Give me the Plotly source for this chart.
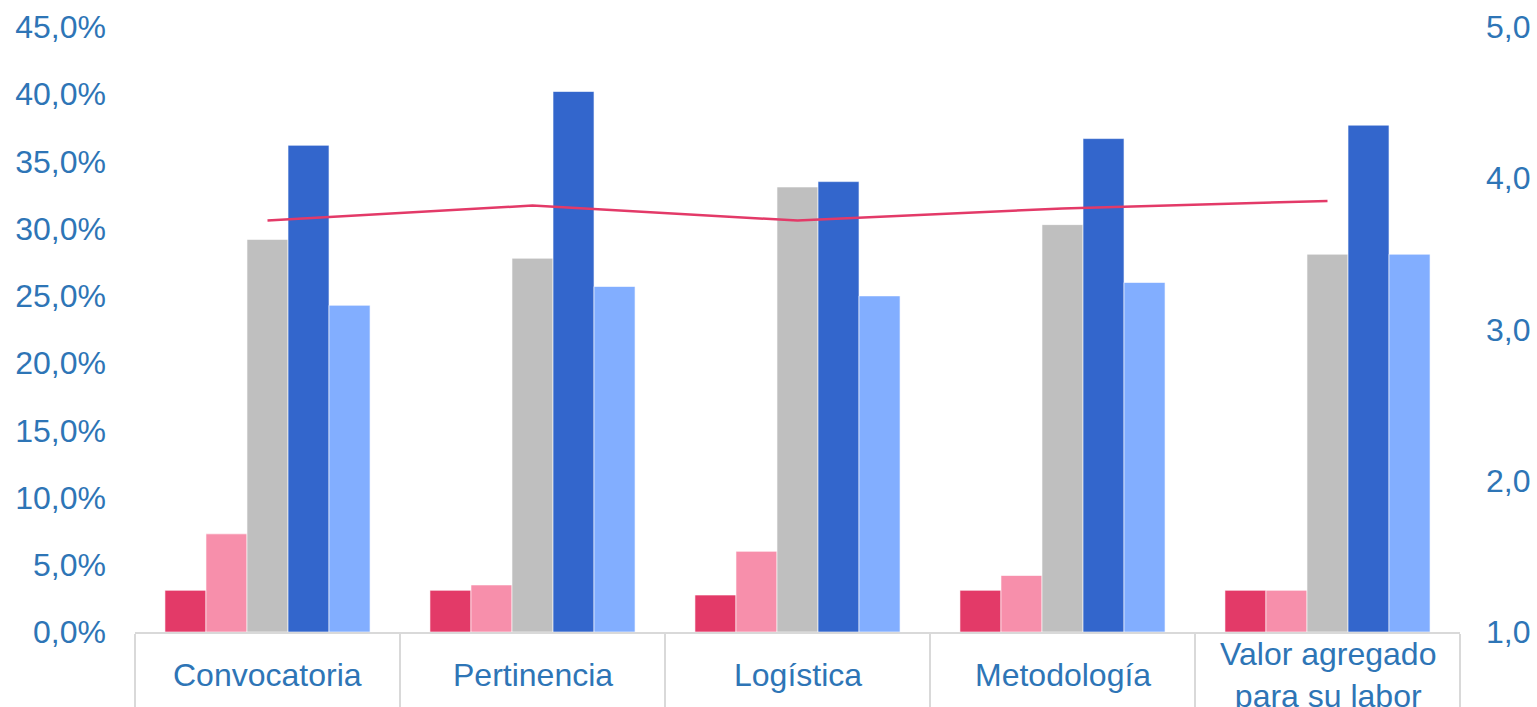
import plotly.graph_objects as go

categories = ["Convocatoria", "Pertinencia", "Logística", "Metodología", "Valor agregado<br>para su labor"]

# Percentage of responses per rating level (1 = lowest, 5 = highest)
nivel_1 = [0.031, 0.031, 0.0275, 0.031, 0.031]
nivel_2 = [0.073, 0.035, 0.060, 0.042, 0.031]
nivel_3 = [0.292, 0.278, 0.331, 0.303, 0.281]
nivel_4 = [0.362, 0.402, 0.335, 0.367, 0.377]
nivel_5 = [0.243, 0.257, 0.250, 0.260, 0.281]

# Average score per criterion (right axis, 1-5 scale)
promedio = [3.72, 3.82, 3.72, 3.80, 3.85]

series = [
    ("1", nivel_1, "#E33A68"),
    ("2", nivel_2, "#F78FAB"),
    ("3", nivel_3, "#BFBFBF"),
    ("4", nivel_4, "#3366CC"),
    ("5", nivel_5, "#82AEFF"),
]

text_color = "#2E75B6"
font_family = "Liberation Sans, Arial, sans-serif"
fsize = 32

fig = go.Figure()
for name, vals, color in series:
    fig.add_trace(go.Bar(
        x=categories, y=vals, name=name,
        marker=dict(color=color, line=dict(color="rgba(255,255,255,0.6)", width=1)),
    ))

fig.add_trace(go.Scatter(
    x=categories, y=promedio, name="Promedio", yaxis="y2",
    mode="lines", line=dict(color="#E33A68", width=2.5),
))

# Category labels, vertically centred in the band under the axis
for cat in categories:
    fig.add_annotation(
        x=cat, xref="x", y=0, yref="paper", yshift=-43,
        text=cat, showarrow=False, xanchor="center", yanchor="middle",
        align="center", font=dict(size=fsize, color=text_color),
    )

fig.update_layout(
    width=1537, height=707,
    margin=dict(l=135, r=77, t=27, b=75),
    paper_bgcolor="white", plot_bgcolor="white",
    barmode="group", bargap=0.226, bargroupgap=0,
    showlegend=False,
    separators=",.",
    font=dict(family=font_family, size=fsize, color=text_color),
    xaxis=dict(
        type="category",
        automargin=False,
        showgrid=False,
        showline=True, linecolor="#D9D9D9", linewidth=1.5,
        ticks="outside", tickson="boundaries", ticklen=75,
        tickcolor="#D9D9D9", tickwidth=1.5,
        showticklabels=False,
    ),
    yaxis=dict(
        range=[0, 0.45], dtick=0.05, tickformat=".1%",
        automargin=False,
        showgrid=False, zeroline=False, showline=False,
        ticklabelstandoff=28,
        tickfont=dict(size=fsize, color=text_color),
    ),
    yaxis2=dict(
        range=[1, 5], dtick=1, tickformat=".1f",
        overlaying="y", side="right",
        automargin=False,
        showgrid=False, zeroline=False, showline=False,
        ticklabelstandoff=25,
        tickfont=dict(size=fsize, color=text_color),
    ),
)

fig.write_html("out.html")
